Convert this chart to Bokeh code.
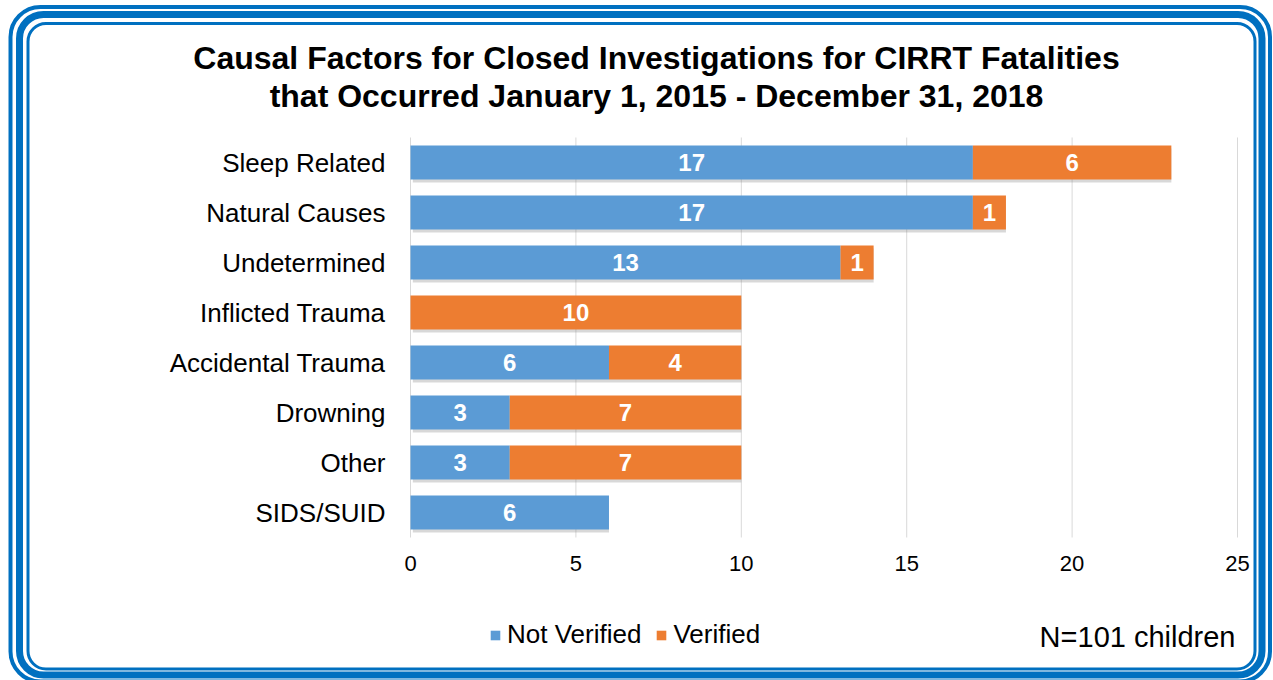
from bokeh.plotting import figure
from bokeh.models import (ColumnDataSource, Legend, LegendItem, Label, FactorRange,
                          Range1d, BoxAnnotation)
from bokeh.embed import file_html
from bokeh.resources import INLINE
from bokeh.core.properties import value
from bokeh.transform import dodge

# ---- data ----
categories = ["Sleep Related", "Natural Causes", "Undetermined", "Inflicted Trauma",
              "Accidental Trauma", "Drowning", "Other", "SIDS/SUID"]
not_verified = [17, 17, 13, 0, 6, 3, 3, 6]
verified = [6, 1, 1, 10, 4, 7, 7, 0]
series_names = ["Not Verified", "Verified"]
x_ticks = [0, 5, 10, 15, 20, 25]
x_tick_labels = ["0", "5", "10", "15", "20", "25"]
title_lines = ["Causal Factors for Closed Investigations for CIRRT Fatalities",
               "that Occurred January 1, 2015 - December 31, 2018"]
note_text = "N=101 children"

# ---- styles ----
BLUE = "#5B9BD5"
ORANGE = "#ED7D31"
FRAME = "#0070C0"
FONT = "Liberation Sans"
W, H = 1273, 680
SHIFT = 0.06  # small vertical nudge of the category band (in category units)

cats_bottom_up = categories[::-1]
totals = [a + b for a, b in zip(not_verified, verified)]
src = ColumnDataSource(dict(cat=categories, nv=not_verified, v=verified, total=totals))

p = figure(width=W, height=H,
           y_range=FactorRange(*cats_bottom_up, range_padding=2.8,
                               range_padding_units="absolute"),
           x_range=Range1d(-12.394, 26.088),
           x_axis_location=None, y_axis_location=None,
           output_backend="svg", toolbar_location=None, min_border=0)
p.title.visible = False
p.outline_line_color = None
p.background_fill_color = "white"
p.border_fill_color = "white"
p.grid.visible = False

ycat = dodge("cat", SHIFT, range=p.y_range)

# decorative triple rounded frame
for l, t, r, b, lw, rad in [(10, 6.5, 1269.5, 681, 4, 30),
                            (19, 14, 1261.5, 674.5, 7, 24),
                            (27.5, 23, 1254.5, 668.5, 3, 18)]:
    p.add_layout(BoxAnnotation(left=l, right=r, top=H - t, bottom=H - b,
                               left_units="screen", right_units="screen",
                               top_units="screen", bottom_units="screen",
                               fill_alpha=0, line_color=FRAME, line_alpha=1.0,
                               line_width=lw, border_radius=rad, level="overlay"))

# vertical gridlines over the category band
p.segment(x0=x_ticks, x1=x_ticks, y0=SHIFT, y1=len(categories) + SHIFT,
          line_color="#D9D9D9", line_width=1)

# shadow under bars
p.hbar(y=dodge("cat", SHIFT - 0.06, range=p.y_range), left=0.07, right="total",
       height=0.68, source=src, fill_color="#7f7f7f", fill_alpha=0.3, line_color=None)

rs = p.hbar_stack(["nv", "v"], y=ycat, height=0.68, color=[BLUE, ORANGE],
                  line_color=None, source=src)

# value labels
lx, ly, lt = [], [], []
for c, a, b in zip(categories, not_verified, verified):
    if a > 0:
        lx.append(a / 2); ly.append(c); lt.append(str(a))
    if b > 0:
        lx.append(a + b / 2); ly.append(c); lt.append(str(b))
lsrc = ColumnDataSource(dict(x=lx, cat=ly, t=lt))
p.text(x="x", y=ycat, text="t", source=lsrc, text_color="white",
       text_font=value(FONT), text_font_style="bold", text_font_size="24px",
       text_align="center", text_baseline="middle")

# category axis labels
csrc = ColumnDataSource(dict(x=[0] * len(categories), cat=categories))
p.text(x="x", y=ycat, text="cat", source=csrc, x_offset=-25,
       text_color="black", text_font=value(FONT), text_font_size="26px",
       text_align="right", text_baseline="middle")

# value axis tick labels
p.text(x=x_ticks, y=[0] * len(x_ticks), text=x_tick_labels, y_offset=23,
       text_color="black", text_font=value(FONT), text_font_size="22px",
       text_align="center", text_baseline="middle")

# title (two lines)
for txt, yy in zip(title_lines, [H - 57, H - 95]):
    p.add_layout(Label(x=656, y=yy, x_units="screen", y_units="screen", text=txt,
                       text_font=FONT, text_font_style="bold", text_font_size="32px",
                       text_align="center", text_baseline="middle", text_color="black"))

# note
p.add_layout(Label(x=1235, y=H - 636, x_units="screen", y_units="screen", text=note_text,
                   text_font=FONT, text_font_size="29px", text_align="right",
                   text_baseline="middle", text_color="black"))

# legend
legend = Legend(items=[LegendItem(label=series_names[0], renderers=[rs[0]]),
                       LegendItem(label=series_names[1], renderers=[rs[1]])],
                orientation="horizontal", location=(489, 30),
                glyph_width=12, glyph_height=12, label_standoff=6, spacing=14,
                padding=0, margin=0, border_line_color=None,
                background_fill_alpha=0,
                label_text_font=FONT, label_text_font_size="26px",
                label_text_color="black")
p.add_layout(legend)

open("out.html", "w").write(file_html(p, INLINE))
